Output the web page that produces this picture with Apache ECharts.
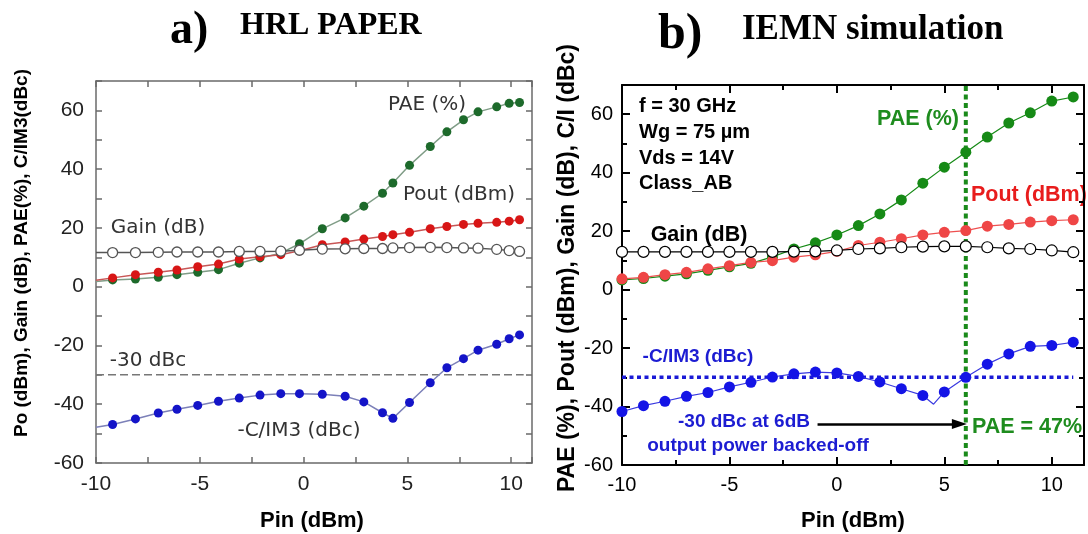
<!DOCTYPE html>
<html><head><meta charset="utf-8">
<script src="https://cdn.jsdelivr.net/npm/echarts@6/dist/echarts.min.js"></script>
<style>html,body{margin:0;padding:0;background:#fff}#c{width:1088px;height:534px}</style>
</head><body><div id="c"></div>
<script>
// ---------- Panel a) HRL paper ----------
const aPin   = [-9.2,-8.1,-7.0,-6.1,-5.1,-4.1,-3.1,-2.1,-1.1,-0.2,0.9,2.0,2.9,3.8,4.3,5.1,6.1,6.9,7.7,8.4,9.3,9.9,10.4];
const aPAE   = [2.3,2.6,3.2,4.1,4.9,5.8,8.0,9.8,11.4,14.6,19.7,23.4,27.4,31.8,35.3,41.3,47.7,52.7,56.8,59.5,61.2,62.4,62.7];
const aPout  = [3.0,4.1,4.9,5.7,6.8,7.7,9.4,10.2,10.9,12.2,14.3,15.2,16.2,17.1,17.7,18.5,19.7,20.5,21.2,21.6,21.9,22.3,22.8];
const aGain  = [11.6,11.6,11.7,11.8,11.8,11.8,12.0,12.0,12.1,12.4,12.8,12.9,13.0,13.0,13.2,13.3,13.4,13.3,13.2,13.1,12.7,12.3,12.0];
const aCIM3  = [-46.9,-45.0,-43.0,-41.7,-40.4,-39.0,-37.9,-36.9,-36.4,-36.4,-36.6,-37.3,-39.2,-42.9,-44.8,-39.4,-32.7,-27.6,-24.5,-21.6,-19.6,-17.7,-16.4];
// where each trace enters at the left frame (no marker there): PAE, Pout, Gain, C/IM3
const aEdgePin = -10;
const aEdgeVal = [1.8, 2.2, 11.6, -47.8];
const aRefPin = [-10, 10.6];
const aRefLevel = -30;

// ---------- Panel b) IEMN simulation ----------
const bPin   = [-10,-9,-8,-7,-6,-5,-4,-3,-2,-1,0,1,2,3,4,5,6,7,8,9,10,11];
const bPAE   = [3.3,3.8,4.6,5.4,6.6,7.8,9.0,11.2,13.9,16.0,18.7,21.9,25.9,30.7,36.4,41.9,47.0,52.2,57.0,60.5,64.5,65.9];
const bPout  = [3.7,4.2,5.1,5.9,7.1,8.2,9.3,9.9,11.1,11.9,13.1,15.1,16.2,17.4,18.7,19.6,20.2,21.7,22.3,23.1,23.6,23.9];
const bGain  = [12.9,12.9,12.9,12.9,12.9,12.9,12.9,12.9,13.0,13.1,13.4,13.9,14.1,14.5,14.7,14.8,14.8,14.5,14.1,13.9,13.4,12.8];
const bCIM3Pin = [-10,-9,-8,-7,-6,-5,-4,-3,-2,-1,0,1,2,3,4,4.5,5,6,7,8,9,10,11];
const bCIM3    = [-41.7,-39.7,-38.2,-36.5,-35.2,-33.3,-31.7,-29.9,-28.8,-28.2,-28.5,-29.7,-31.6,-33.9,-36.2,-39.2,-35.0,-30.0,-25.5,-22.0,-19.4,-19.1,-18.0];
const bCIM3NoMarker = [4.5];
const bRefPin = [-10, 11];
const bRefLevel = -30;
const bMarkPin = 6;
const bYRange = [-60, 70];
const arrowFrom = [-0.9, -46];
const arrowTo = [5.7, -46];

const SANS = "'Liberation Sans', Arial, Helvetica, sans-serif";
const SERIF = "'Liberation Serif', 'Times New Roman', serif";
const VSANS = "'DejaVu Sans', Verdana, sans-serif";

function zip(xs, ys) { return xs.map((x, i) => [x, ys[i]]); }

function axisSet(kind, grid, min, max, major, minor, o) {
  const pos = kind === 'x' ? ['bottom', 'top'] : ['left', 'right'];
  const tick = (len) => ({show: true, inside: true, length: len, lineStyle: {color: o.color, width: o.width}});
  const base = {type: 'value', gridIndex: grid, min: min, max: max, splitLine: {show: false}, axisLabel: {show: false}};
  const line = {show: true, onZero: false, lineStyle: {color: o.color, width: o.width}};
  return [
    Object.assign({}, base, {position: pos[0], interval: major, axisLine: line, axisTick: tick(o.majLen),
      axisLabel: {show: true, showMaxLabel: false, fontSize: o.fs, color: o.lc, fontFamily: SANS, margin: o.margin}}),
    Object.assign({}, base, {position: pos[1], interval: major, axisLine: line, axisTick: tick(o.majLen)}),
    Object.assign({}, base, {position: pos[0], interval: minor, axisLine: {show: false, onZero: false}, axisTick: tick(o.minLen)}),
    Object.assign({}, base, {position: pos[1], interval: minor, axisLine: {show: false, onZero: false}, axisTick: tick(o.minLen)})
  ];
}

const aStyle = {color: '#6a6a6a', width: 1.5, majLen: 6, minLen: 6, fs: 21, lc: '#222', margin: 11};
const bStyle = {color: '#000', width: 2, majLen: 8, minLen: 5, fs: 20, lc: '#000', margin: 10};

const xAxes = [].concat(
  axisSet('x', 0, -10, 11, 5, 2.5, aStyle),
  axisSet('x', 1, -10, 11.5, 5, 2.5, bStyle));
const yAxes = [].concat(
  axisSet('y', 0, -60, 70, 20, 10, Object.assign({}, aStyle, {margin: 12})),
  axisSet('y', 1, -60, 70, 20, 10, Object.assign({}, bStyle, {margin: 9})));

function aSeries(name, ys, edge, mcolor, lcolor, open) {
  const data = [{value: [aEdgePin, edge], symbol: 'none'}].concat(zip(aPin, ys));
  return {
    name: name, type: 'line', xAxisIndex: 0, yAxisIndex: 0, data: data,
    symbol: 'circle', symbolSize: open ? 10 : 9, showSymbol: true,
    lineStyle: {color: lcolor, width: 1.5},
    itemStyle: open ? {color: '#fff', borderColor: '#555', borderWidth: 1.3} : {color: mcolor, borderWidth: 0},
    emphasis: {disabled: true}
  };
}
function bSeries(name, xs, ys, mcolor, lcolor, open, hidden) {
  const data = zip(xs, ys).map(p => (hidden && hidden.indexOf(p[0]) >= 0) ? {value: p, symbol: 'none'} : p);
  return {
    name: name, type: 'line', xAxisIndex: 4, yAxisIndex: 4, data: data,
    symbol: 'circle', symbolSize: 11, showSymbol: true,
    lineStyle: {color: lcolor, width: 1.2},
    itemStyle: open ? {color: '#fff', borderColor: '#000', borderWidth: 1.2} : {color: mcolor, borderWidth: 0},
    emphasis: {disabled: true}
  };
}

const series = [
  {name: '-30 dBc (a)', type: 'line', xAxisIndex: 0, yAxisIndex: 0, symbol: 'none',
   data: aRefPin.map(x => [x, aRefLevel]), lineStyle: {color: '#777', width: 1.5, type: [8, 4]}},
  aSeries('-C/IM3 (dBc)', aCIM3, aEdgeVal[3], '#1414c8', '#7c80b8', false),
  aSeries('PAE (%)', aPAE, aEdgeVal[0], '#1d6a2b', '#7f9c86', false),
  aSeries('Pout (dBm)', aPout, aEdgeVal[1], '#d81616', '#c85656', false),
  aSeries('Gain (dB)', aGain, aEdgeVal[2], '#fff', '#555', true),

  {name: '-30 dBc (b)', type: 'line', xAxisIndex: 4, yAxisIndex: 4, symbol: 'none',
   data: bRefPin.map(x => [x, bRefLevel]), lineStyle: {color: '#1a1ad6', width: 3.5, type: [4, 3.5]}},
  bSeries('PAE (%)', bPin, bPAE, '#168a16', '#168a16', false),
  bSeries('Pout (dBm)', bPin, bPout, '#ef4646', '#ee5050', false),
  bSeries('Gain (dB)', bPin, bGain, '#fff', '#000', true),
  Object.assign(bSeries('-C/IM3 (dBc)', bCIM3Pin, bCIM3, '#1414e6', '#3a3ae0', false, bCIM3NoMarker), {
    markLine: {silent: true, symbol: ['none', 'triangle'], symbolSize: [10, 15], label: {show: false},
      lineStyle: {color: '#000', width: 2.5, type: 'solid'},
      data: [[{coord: arrowFrom}, {coord: arrowTo}]]}
  }),
  {name: 'Pin = 6 dBm', type: 'line', xAxisIndex: 4, yAxisIndex: 4, symbol: 'none',
   data: bYRange.map(y => [bMarkPin, y]), lineStyle: {color: '#1a8a1a', width: 4, type: [5, 3.5]}}
];

function txt(x, y, s, o) {
  return Object.assign({type: 'text', x: x, y: y, silent: true, style: Object.assign({
    text: s, align: 'center', verticalAlign: 'middle', fill: '#000', font: 'bold 20px ' + SANS}, o.style || {})},
    o.rotation ? {rotation: o.rotation} : {});
}

const graphics = [
  txt(170, 31, 'a)', {style: {align: 'left', font: 'bold 46px ' + SERIF}}),
  txt(240, 26, 'HRL PAPER', {style: {align: 'left', font: 'bold 32px ' + SERIF}}),
  txt(658, 35, 'b)', {style: {align: 'left', font: 'bold 50px ' + SERIF}}),
  txt(742, 30, 'IEMN simulation', {style: {align: 'left', font: 'bold 35px ' + SERIF}}),

  txt(22, 253, 'Po (dBm), Gain (dB), PAE(%), C/IM3(dBc)', {rotation: Math.PI / 2, style: {font: 'bold 19px ' + SANS}}),
  txt(568, 268, 'PAE (%), Pout (dBm), Gain (dB), C/I (dBc)', {rotation: Math.PI / 2, style: {font: 'bold 23px ' + SANS}}),
  txt(312, 521, 'Pin (dBm)', {style: {font: 'bold 22px ' + SANS}}),
  txt(853, 521, 'Pin (dBm)', {style: {font: 'bold 22px ' + SANS}}),

  txt(427, 105, 'PAE (%)', {style: {font: '20px ' + VSANS, fill: '#333'}}),
  txt(459, 195, 'Pout (dBm)', {style: {font: '20px ' + VSANS, fill: '#333'}}),
  txt(158, 228, 'Gain (dB)', {style: {font: '20px ' + VSANS, fill: '#333'}}),
  txt(148, 361, '-30 dBc', {style: {font: '20px ' + VSANS, fill: '#333'}}),
  txt(299, 431, '-C/IM3 (dBc)', {style: {font: '20px ' + VSANS, fill: '#333'}}),

  txt(639, 106, 'f = 30 GHz', {style: {align: 'left'}}),
  txt(639, 132, 'Wg = 75 µm', {style: {align: 'left'}}),
  txt(639, 158, 'Vds = 14V', {style: {align: 'left'}}),
  txt(639, 183, 'Class_AB', {style: {align: 'left'}}),
  txt(918, 119, 'PAE (%)', {style: {font: 'bold 21.5px ' + SANS, fill: '#1e8c1e'}}),
  txt(971, 195, 'Pout (dBm)', {style: {align: 'left', font: 'bold 21.5px ' + SANS, fill: '#e81c1c'}}),
  txt(699, 235, 'Gain (dB)', {style: {font: 'bold 21.5px ' + SANS}}),
  txt(698, 357, '-C/IM3 (dBc)', {style: {font: 'bold 19px ' + SANS, fill: '#1c1cd2'}}),
  txt(744, 422, '-30 dBc at 6dB', {style: {font: 'bold 19px ' + SANS, fill: '#1c1cd2'}}),
  txt(758, 446, 'output power backed-off', {style: {font: 'bold 19px ' + SANS, fill: '#1c1cd2'}}),
  txt(1027, 427, 'PAE = 47%', {style: {font: 'bold 21.5px ' + SANS, fill: '#1e8c1e'}})
];

const chart = echarts.init(document.getElementById('c'), null, {renderer: 'canvas'});
chart.setOption({
  backgroundColor: '#fff',
  animation: false,
  textStyle: {fontFamily: SANS},
  grid: [
    {left: 96, top: 81, width: 436, height: 382, containLabel: false},
    {left: 622, top: 85, width: 462, height: 380, containLabel: false}
  ],
  xAxis: xAxes,
  yAxis: yAxes,
  series: series,
  graphic: graphics
});
</script></body></html>
